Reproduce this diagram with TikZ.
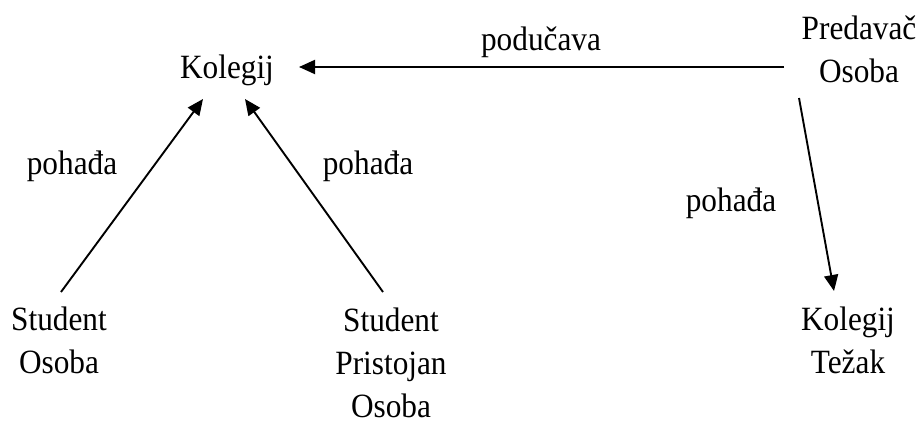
\documentclass[tikz,border=0pt]{standalone}
\usepackage{fontspec}
\setmainfont[FakeStretch=0.92]{Liberation Serif}
\usetikzlibrary{arrows.meta,calc}
\begin{document}
\begin{tikzpicture}[x=1pt,y=-1pt,
  lbl/.style={font=\fontsize{34}{43}\selectfont, inner sep=0pt, align=center, anchor=base},
  arr/.style={line width=1.9pt, -{Triangle[length=16pt,width=14pt]}}]
\useasboundingbox (0,0) rectangle (920,425);
\node[lbl] (k1) at (227,79) {Kolegij};
\node[lbl] (pr) at (859,83) {Predavač\\Osoba};
\node[lbl] (s1) at (59,373) {Student\\Osoba};
\node[lbl] (s2) at (391,417) {Student\\Pristojan\\Osoba};
\node[lbl] (k2) at (848,373) {Kolegij\\Težak};
\node[lbl] (l1) at (541,51) {podučava};
\node[lbl] (l2) at (72,174) {pohađa};
\node[lbl] (l3) at (368,174) {pohađa};
\node[lbl] (l4) at (731,211) {pohađa};
\draw[arr] ($(pr.base)+(-75,-16)$) -- ($(k1.base)+(72,-12)$);
\draw[arr] ($(s1.base)+(2,-81)$) -- ($(k1.base)+(-24,20)$);
\draw[arr] ($(s2.base)+(-8,-125)$) -- ($(k1.base)+(18,20)$);
\draw[arr] ($(pr.base)+(-60,15)$) -- ($(k2.base)+(-14,-82)$);
\end{tikzpicture}
\end{document}
